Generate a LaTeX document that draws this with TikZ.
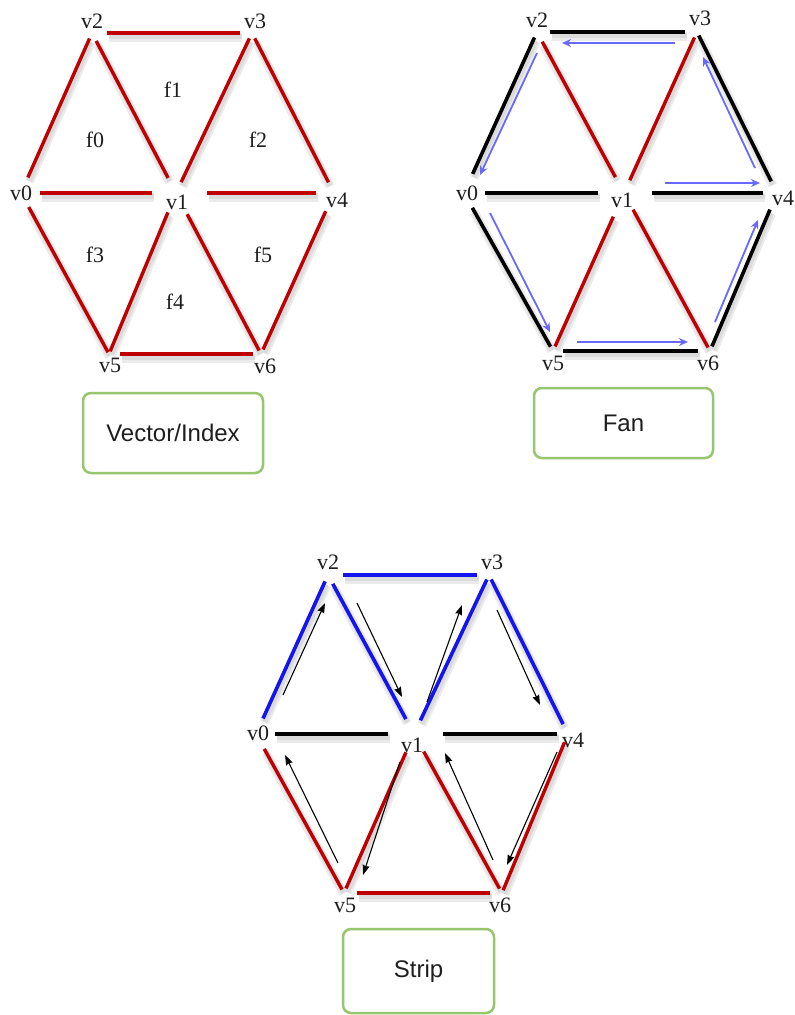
\documentclass[tikz,border=0pt]{standalone}
\usepackage{fontspec}
\setmainfont{Liberation Serif}
\newfontfamily\boxfont{Liberation Sans}
\usetikzlibrary{arrows.meta}
\definecolor{ered}{RGB}{192,0,0}
\definecolor{eblue}{RGB}{20,20,240}
\definecolor{ablue}{RGB}{105,105,255}
\definecolor{bgreen}{RGB}{150,198,110}
\definecolor{txt}{RGB}{30,30,30}
\begin{document}
\begin{tikzpicture}[x=1pt,y=-1pt,
  vl/.style={font=\fontsize{22}{25}\selectfont, inner sep=0pt, text=txt},
  g/.style 2 args={shorten <=#1pt, shorten >=#2pt},
  shad/.style={draw=black!8, line width=9pt},
  shad2/.style={draw=black!14, line width=5pt},
  re/.style={draw=ered, line width=3.4pt},
  bk/.style={draw=black, line width=3.6pt},
  bl/.style={draw=eblue, line width=3.6pt},
  barrow/.style={draw=ablue, line width=1.8pt, -{Stealth[length=9pt,width=8pt]}},
  karrow/.style={draw=black, line width=1.1pt, -{Stealth[length=10pt,width=7pt,inset=1pt]}},
  kind/.style={draw=bgreen, line width=2.5pt, rounded corners=8pt, fill=white,
    font=\boxfont\fontsize{24}{28}\selectfont, text=txt, inner sep=0pt}
]
\useasboundingbox (0,0) rectangle (795,1015);
\fill[white] (0,0) rectangle (795,1015);

% ---------- vertex points ----------
\coordinate (A0) at (21,193);  \coordinate (A1) at (176,193);
\coordinate (A2) at (92,33);   \coordinate (A3) at (252,33);
\coordinate (A4) at (334,193); \coordinate (A5) at (109,354);
\coordinate (A6) at (261,354);

\coordinate (B0) at (464,193); \coordinate (B1) at (624,193);
\coordinate (B2) at (537,32);  \coordinate (B3) at (697,32);
\coordinate (B4) at (777,193); \coordinate (B5) at (553,351);
\coordinate (B6) at (710,351);

\coordinate (C0) at (256,734); \coordinate (C1) at (414,734);
\coordinate (C2) at (328,575); \coordinate (C3) at (489,575);
\coordinate (C4) at (568,734); \coordinate (C5) at (344,893);
\coordinate (C6) at (502,893);

% ---------- edges ----------
\def\edgelist{A2/A3/15/12/re, A2/A0/6/17/re, A2/A1/9/17/re, A0/A1/19/24/re,
  A1/A3/12/6/re, A3/A4/6/12/re, A1/A4/31/18/re, A0/A5/16/2/re,
  A1/A5/21/3/re, A1/A6/24/4/re, A4/A6/20/5/re, A5/A6/11/8/re,
  B2/B3/13/12/bk, B2/B0/6/21/bk, B2/B1/11/18/re, B0/B1/21/26/bk,
  B1/B3/14/6/re, B3/B4/4/13/bk, B1/B4/28/14/bk, B0/B5/17/5/bk,
  B1/B5/26/5/re, B1/B6/19/4/re, B5/B6/10/12/bk, B4/B6/18/5/bk,
  C2/C3/15/12/bl, C2/C0/7/17/bl, C2/C1/10/17/bl, C0/C1/19/26/bk,
  C1/C3/15/5/bl, C3/C4/5/11/bl, C1/C4/29/11/bk, C0/C5/17/4/re,
  C1/C5/20/5/re, C1/C6/20/5/re, C4/C6/9/3/re, C5/C6/13/12/re}
% soft drop shadows
\foreach \a/\b/\s/\t/\c in \edgelist
  \draw[shad, g={\s}{\t}] ([xshift=1.5pt,yshift=-4pt]\a) -- ([xshift=1.5pt,yshift=-4pt]\b);
\foreach \a/\b/\s/\t/\c in \edgelist
  \draw[shad2, g={\s}{\t}] ([xshift=1.5pt,yshift=-3.5pt]\a) -- ([xshift=1.5pt,yshift=-3.5pt]\b);

% ---------- vertex labels ----------
\node[vl] (la0) at (21,193) {v0};
\node[vl] (la1) at (177,202) {v1};
\node[vl] (la2) at (92,21) {v2};
\node[vl] (la3) at (255,21) {v3};
\node[vl] (la4) at (337,200) {v4};
\node[vl] (la5) at (110,365) {v5};
\node[vl] (la6) at (265,366) {v6};

\node[vl] (lb0) at (467,193) {v0};
\node[vl] (lb1) at (622,200) {v1};
\node[vl] (lb2) at (537,20) {v2};
\node[vl] (lb3) at (700,18) {v3};
\node[vl] (lb4) at (783,198) {v4};
\node[vl] (lb5) at (553,363) {v5};
\node[vl] (lb6) at (708,363) {v6};

\node[vl] (lc0) at (258,733) {v0};
\node[vl] (lc1) at (412,745) {v1};
\node[vl] (lc2) at (328,562) {v2};
\node[vl] (lc3) at (492,562) {v3};
\node[vl] (lc4) at (573,740) {v4};
\node[vl] (lc5) at (345,905) {v5};
\node[vl] (lc6) at (500,905) {v6};

% ---------- face labels ----------
\node[vl] (f0) at (95,140) {f0};
\node[vl] (f1) at (173,90) {f1};
\node[vl] (f2) at (258,140) {f2};
\node[vl] (f3) at (95,255) {f3};
\node[vl] (f4) at (175,302) {f4};
\node[vl] (f5) at (263,255) {f5};

\foreach \a/\b/\s/\t/\c in \edgelist
  \draw[\c, g={\s}{\t}] (\a) -- (\b);

% ---------- fan arrows ----------
\draw[barrow] (675,43) -- (562,43);
\draw[barrow] (537,53) -- (480,175);
\draw[barrow] (490,213) -- (550,332);
\draw[barrow] (577,342) -- (688,342);
\draw[barrow] (715,322) -- (758,220);
\draw[barrow] (665,183) -- (760,183);
\draw[barrow] (755,168) -- (703,57);

% ---------- strip arrows ----------
\draw[karrow] (283,695) -- (325,603);
\draw[karrow] (357,603) -- (402,697);
\draw[karrow] (427,702) -- (462,605);
\draw[karrow] (497,610) -- (540,705);
\draw[karrow] (557,752) -- (507,865);
\draw[karrow] (493,860) -- (445,753);
\draw[karrow] (400,762) -- (363,875);
\draw[karrow] (338,863) -- (285,755);

% ---------- boxes ----------
\node[kind, minimum width=180pt, minimum height=80pt] (vec) at (173,433) {Vector/Index};
\node[kind, minimum width=179pt, minimum height=70pt] (fan) at (623.5,423) {Fan};
\node[kind, minimum width=151pt, minimum height=84pt] (strip) at (418.5,971) {Strip};
\end{tikzpicture}
\end{document}
